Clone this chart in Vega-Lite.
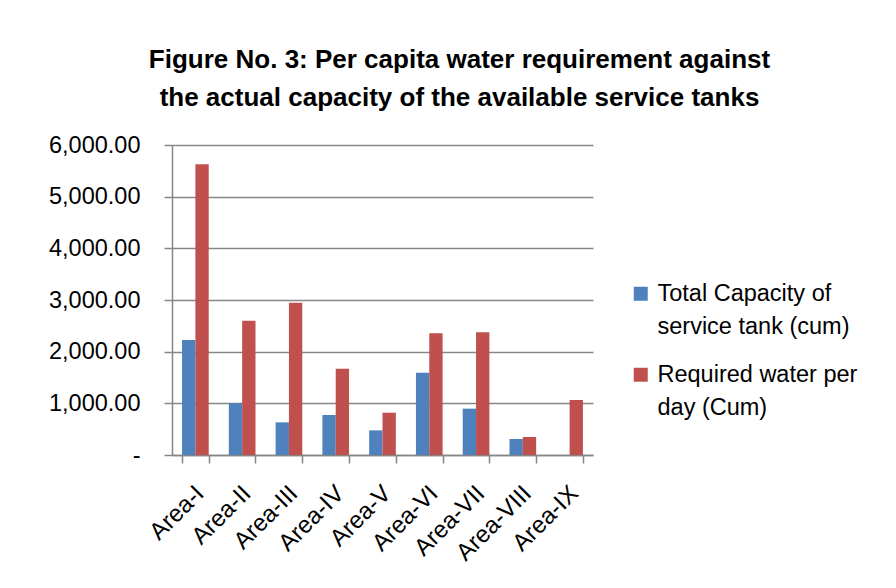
{
  "$schema": "https://vega.github.io/schema/vega-lite/v6.json",
  "autosize": {"type": "none"},
  "padding": {"left": 172, "top": 145, "right": 303, "bottom": 133},
  "width": 421,
  "height": 310,
  "background": "white",
  "title": {
    "text": ["Figure No. 3: Per capita water requirement against", "the actual capacity of the available service tanks"],
    "font": "Liberation Sans",
    "fontSize": 26,
    "fontWeight": "bold",
    "color": "#000000",
    "anchor": "middle",
    "frame": "group",
    "dx": 77,
    "offset": 22,
    "lineHeight": 38
  },
  "data": {
    "values": [
      {"area": "Area-I", "series": "Total Capacity of service tank (cum)", "value": 2226},
      {"area": "Area-I", "series": "Required water per day (Cum)", "value": 5626},
      {"area": "Area-II", "series": "Total Capacity of service tank (cum)", "value": 1000},
      {"area": "Area-II", "series": "Required water per day (Cum)", "value": 2600},
      {"area": "Area-III", "series": "Total Capacity of service tank (cum)", "value": 632},
      {"area": "Area-III", "series": "Required water per day (Cum)", "value": 2948},
      {"area": "Area-IV", "series": "Total Capacity of service tank (cum)", "value": 774},
      {"area": "Area-IV", "series": "Required water per day (Cum)", "value": 1671},
      {"area": "Area-V", "series": "Total Capacity of service tank (cum)", "value": 477},
      {"area": "Area-V", "series": "Required water per day (Cum)", "value": 819},
      {"area": "Area-VI", "series": "Total Capacity of service tank (cum)", "value": 1594},
      {"area": "Area-VI", "series": "Required water per day (Cum)", "value": 2355},
      {"area": "Area-VII", "series": "Total Capacity of service tank (cum)", "value": 897},
      {"area": "Area-VII", "series": "Required water per day (Cum)", "value": 2374},
      {"area": "Area-VIII", "series": "Total Capacity of service tank (cum)", "value": 310},
      {"area": "Area-VIII", "series": "Required water per day (Cum)", "value": 348},
      {"area": "Area-IX", "series": "Required water per day (Cum)", "value": 1065}
    ]
  },
  "mark": {"type": "bar"},
  "encoding": {
    "x": {
      "field": "area",
      "type": "nominal",
      "sort": null,
      "scale": {"paddingInner": 0.43, "paddingOuter": 0.215},
      "axis": {
        "title": null,
        "labelAngle": -45,
        "labelFont": "Liberation Sans",
        "labelFontSize": 24,
        "labelColor": "#000000",
        "labelPadding": 18,
        "labelOffset": -4,
        "tickBand": "extent",
        "tickSize": 8,
        "tickColor": "#868686",
        "tickWidth": 1.5,
        "domainColor": "#868686",
        "domainWidth": 1.5,
        "grid": false
      }
    },
    "xOffset": {
      "field": "series",
      "type": "nominal",
      "scale": {"domain": ["Total Capacity of service tank (cum)", "Required water per day (Cum)"], "paddingInner": 0, "paddingOuter": 0}
    },
    "y": {
      "field": "value",
      "type": "quantitative",
      "scale": {"domain": [0, 6000], "nice": false},
      "axis": {
        "title": null,
        "values": [0, 1000, 2000, 3000, 4000, 5000, 6000],
        "format": ",.2f",
        "labelExpr": "datum.value == 0 ? '-\u00a0\u00a0' : datum.label",
        "labelFont": "Liberation Sans",
        "labelFontSize": 23.5,
        "labelColor": "#000000",
        "labelPadding": 24,
        "tickSize": 8,
        "tickColor": "#868686",
        "tickWidth": 1.5,
        "domainColor": "#868686",
        "domainWidth": 1.5,
        "grid": true,
        "gridColor": "#868686",
        "gridWidth": 1.5
      }
    },
    "color": {
      "field": "series",
      "type": "nominal",
      "scale": {"domain": ["Total Capacity of service tank (cum)", "Required water per day (Cum)"], "range": ["#4F81BD", "#C0504D"]},
      "legend": {
        "title": null,
        "orient": "none",
        "legendX": 457,
        "legendY": 137,
        "symbolType": "square",
        "symbolSize": 196,
        "symbolStrokeWidth": 0,
        "labelFont": "Liberation Sans",
        "labelFontSize": 23.5,
        "labelColor": "#000000",
        "labelOffset": 5,
        "labelLimit": 400,
        "rowPadding": 23,
        "labelExpr": "datum.label == 'Total Capacity of service tank (cum)' ? ['Total Capacity of', 'service tank (cum)'] : ['Required water per', 'day (Cum)']"
      }
    }
  },
  "config": {
    "view": {"stroke": null},
    "style": {"guide-label": {"lineHeight": 33}}
  }
}
